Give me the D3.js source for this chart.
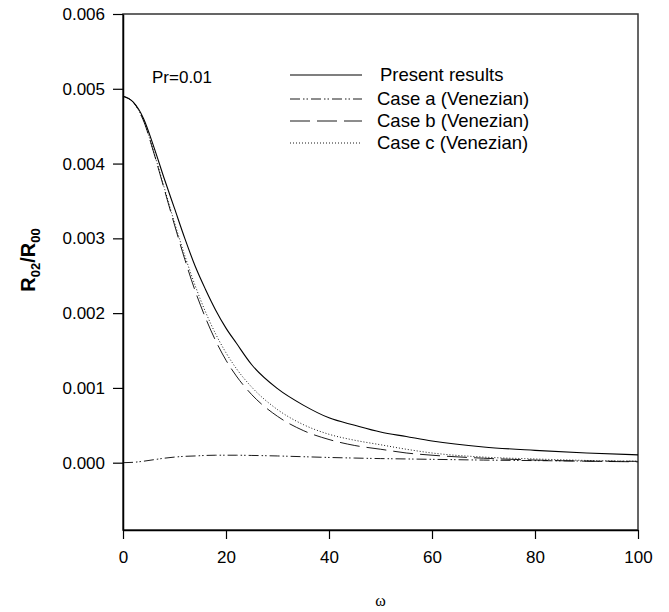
<!DOCTYPE html>
<html>
<head>
<meta charset="utf-8">
<script src="https://cdn.jsdelivr.net/npm/d3@7"></script>
<style>
  body { margin: 0; background: #fff; }
  text { font-family: "Liberation Sans", Arial, sans-serif; fill: #000; }
</style>
</head>
<body>
<script>
var omega = [0, 2, 4, 6, 8, 10, 12, 14, 16, 18, 20, 22, 25, 30, 35, 40, 45, 50, 55, 60, 70, 80, 90, 100];

// R02/R00
var present = [0.0049, 0.00482, 0.0046, 0.00422, 0.0038, 0.0034, 0.003, 0.00263, 0.00232, 0.00204, 0.0018, 0.0016, 0.00131, 0.00099, 0.00077, 0.0006, 0.0005, 0.00041, 0.00035, 0.00029, 0.00021, 0.000165, 0.00013, 0.000105];
var caseA = [0, 0.000005, 0.00002, 0.00004, 0.00006, 0.000075, 0.000085, 0.00009, 0.000097, 0.0001, 0.0001, 0.0001, 0.000097, 0.00009, 0.00008, 0.00007, 0.000062, 0.000055, 0.00005, 0.000045, 0.000035, 0.000028, 0.000022, 0.000018];
var caseB = [0.0049, 0.00482, 0.00457, 0.00414, 0.00366, 0.00318, 0.00272, 0.0023, 0.00194, 0.00163, 0.00137, 0.00116, 0.00091, 0.00062, 0.00043, 0.00031, 0.00023, 0.00018, 0.00013, 0.0001, 0.00006, 0.000035, 0.00002, 0.000012];
var caseC = [0.0049, 0.00482, 0.00457, 0.00415, 0.00368, 0.00321, 0.00277, 0.00237, 0.00202, 0.00172, 0.00147, 0.00126, 0.00101, 0.00071, 0.00051, 0.00038, 0.0003, 0.00024, 0.00018, 0.00013, 0.000075, 0.00005, 0.00003, 0.00002];

var seriesNames = ["Present results", "Case a (Venezian)", "Case b (Venezian)", "Case c (Venezian)"];
var xTicks = [0, 20, 40, 60, 80, 100];
var yTicks = [0, 0.001, 0.002, 0.003, 0.004, 0.005, 0.006];

var margin = {top: 14, right: 31, bottom: 82, left: 123},
	width = 669 - margin.left - margin.right,
	height = 612 - margin.top - margin.bottom;

var x = d3.scaleLinear().domain([0, 100]).range([0, width]);
var y = d3.scaleLinear().domain([-0.0009, 0.006]).range([height, 0]);

var svg = d3.select('body').append('svg')
	.attr('width', 669)
	.attr('height', 612);

var main = svg.append('g')
	.attr('transform', 'translate(' + margin.left + ',' + margin.top + ')');

// frame
main.append('rect')
	.attr('width', width).attr('height', height)
	.attr('fill', 'none').attr('stroke', '#333').attr('stroke-width', 1.5);

var xAxis = main.append('g')
	.attr('transform', 'translate(0,' + height + ')')
	.call(d3.axisBottom(x).tickValues(xTicks).tickSize(9).tickPadding(12).tickSizeOuter(0));

var yAxis = main.append('g')
	.call(d3.axisLeft(y).tickValues(yTicks).tickFormat(d3.format('.3f')).tickSize(10).tickPadding(8).tickSizeOuter(0));

[xAxis, yAxis].forEach(function(a) {
	a.select('.domain').attr('stroke', '#000').attr('stroke-width', 1.5);
	a.selectAll('.tick line').attr('stroke', '#000').attr('stroke-width', 1.2);
	a.selectAll('text').style('font-size', '17px').attr('fill', '#000');
});

// curves
var styles = [
	{data: present, dash: null, w: 1.1},
	{data: caseA, dash: '10,3,1.5,2,1.5,3', w: 0.9},
	{data: caseB, dash: '20,7', w: 0.9},
	{data: caseC, dash: '1,2', w: 0.9}
];

var line = d3.line()
	.x(function(d) { return x(d[0]); })
	.y(function(d) { return y(d[1]); })
	.curve(d3.curveMonotoneX);

styles.forEach(function(s) {
	main.append('path')
		.datum(omega.map(function(o, i) { return [o, s.data[i]]; }))
		.attr('d', line)
		.attr('fill', 'none')
		.attr('stroke', '#000')
		.attr('stroke-width', s.w)
		.attr('stroke-dasharray', s.dash);
});

// legend
var legend = svg.append('g');
var rowY = [75, 99, 121, 143];
seriesNames.forEach(function(name, i) {
	legend.append('line')
		.attr('x1', 290).attr('x2', 362)
		.attr('y1', rowY[i]).attr('y2', rowY[i])
		.attr('stroke', '#000')
		.attr('stroke-width', styles[i].w)
		.attr('stroke-dasharray', styles[i].dash);
	legend.append('text')
		.attr('x', i === 0 ? 380 : 377)
		.attr('y', rowY[i])
		.attr('dy', '0.35em')
		.style('font-size', '18.5px')
		.text(name);
});

svg.append('text')
	.attr('x', 152).attr('y', 77)
	.attr('dy', '0.35em')
	.style('font-size', '17px')
	.text('Pr=0.01');

// axis titles
var yl = svg.append('text')
	.attr('transform', 'translate(35,260) rotate(-90)')
	.attr('text-anchor', 'middle')
	.style('font-size', '20px')
	.style('font-weight', 'bold');
yl.append('tspan').text('R');
yl.append('tspan').attr('dy', 5).style('font-size', '13px').text('02');
yl.append('tspan').attr('dy', -5).text('/R');
yl.append('tspan').attr('dy', 5).style('font-size', '13px').text('00');

svg.append('text')
	.attr('x', margin.left + width / 2)
	.attr('y', 606)
	.attr('text-anchor', 'middle')
	.style('font-family', '"Liberation Serif", "DejaVu Serif", serif')
	.style('font-size', '16px')
	.text('ω');
</script>
</body>
</html>
